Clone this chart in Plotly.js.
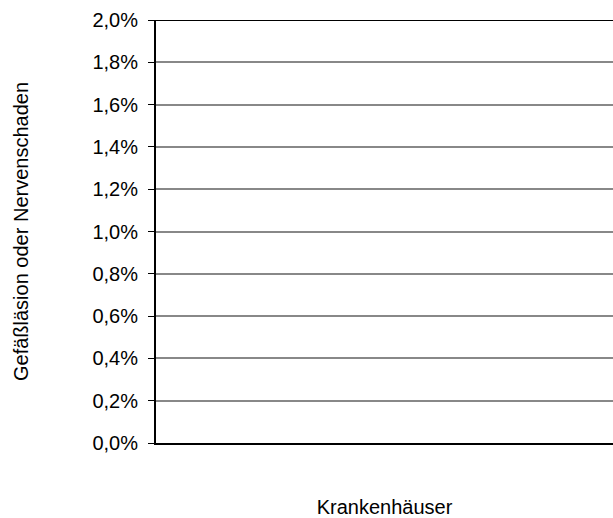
<!DOCTYPE html>
<html>
<head>
<meta charset="utf-8">
<script src="https://cdn.plot.ly/plotly-3.0.1.min.js"></script>
<style>html,body{margin:0;padding:0;background:#fff}</style>
</head>
<body>
<div id="myDiv" style="width:613px;height:518px"></div>
<script>
// empty chart: no hospitals plotted
const hospitals = [];
const rates = [];
const yTickVals = [0, 0.002, 0.004, 0.006, 0.008, 0.010, 0.012, 0.014, 0.016, 0.018, 0.020];
const yTickText = ['0,0%', '0,2%', '0,4%', '0,6%', '0,8%', '1,0%', '1,2%', '1,4%', '1,6%', '1,8%', '2,0%'];

var data = [{
    x: hospitals,
    y: rates,
    type: 'bar',
    marker: {color: '#000'}
}];

var layout = {
    width: 613,
    height: 518,
    margin: {l: 156, r: 0, t: 20, b: 75},
    showlegend: false,
    paper_bgcolor: '#fff',
    plot_bgcolor: '#fff',
    font: {family: 'Liberation Sans, Arial, sans-serif', size: 20, color: '#000'},
    xaxis: {
        range: [0, 1],
        showticklabels: false,
        showgrid: false,
        zeroline: false,
        showline: true,
        linecolor: '#000',
        linewidth: 2,
        title: {text: 'Krankenhäuser', standoff: 57, font: {size: 20}}
    },
    yaxis: {
        range: [0, 0.02],
        tickvals: yTickVals,
        ticktext: yTickText,
        tickfont: {size: 20},
        ticks: 'outside',
        ticklen: 6,
        tickcolor: '#000',
        ticklabelstandoff: 6,
        showline: true,
        linecolor: '#000',
        linewidth: 2,
        gridcolor: '#888',
        gridwidth: 1.5,
        zeroline: false,
        title: {text: 'Gefäßläsion oder Nervenschaden', standoff: 58, font: {size: 20}}
    },
    shapes: [{
        type: 'line', xref: 'paper', yref: 'y', x0: 0, x1: 1, y0: 0.02, y1: 0.02,
        line: {color: '#000', width: 2}
    }]
};

Plotly.newPlot('myDiv', data, layout, {displayModeBar: false});
</script>
</body>
</html>
